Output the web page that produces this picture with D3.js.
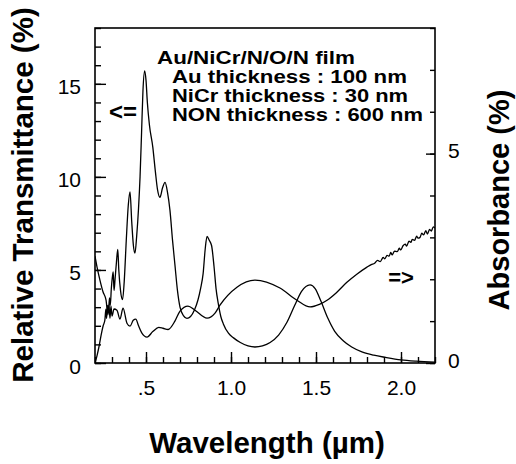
<!DOCTYPE html>
<html>
<head>
<meta charset="utf-8">
<script src="https://cdn.jsdelivr.net/npm/d3@7"></script>
<style>
  body { margin: 0; background: #fff; }
  text { font-family: "Liberation Sans", Arial, Helvetica, sans-serif; fill: #000; }
</style>
</head>
<body>
<svg id="chart"></svg>
<script>
// transmittance (left axis, %)
const wlT = [0.200, 0.212, 0.224, 0.236, 0.248, 0.258, 0.264, 0.268, 0.274, 0.279, 0.285, 0.290, 0.296, 0.302,
  0.307, 0.312, 0.318, 0.326, 0.334, 0.340, 0.350, 0.362, 0.372, 0.384, 0.396, 0.406, 0.416, 0.426, 0.435,
  0.445, 0.456, 0.465, 0.474, 0.482, 0.492, 0.500, 0.508, 0.520, 0.540, 0.555, 0.568, 0.582, 0.597, 0.612,
  0.626, 0.641, 0.656, 0.671, 0.685, 0.700, 0.720, 0.741, 0.762, 0.785, 0.806, 0.821, 0.836, 0.848, 0.859,
  0.872, 0.886, 0.900, 0.912, 0.925, 0.940, 0.955, 0.985, 1.015, 1.055, 1.100, 1.141, 1.185, 1.230, 1.280,
  1.330, 1.375, 1.415, 1.465, 1.495, 1.530, 1.570, 1.610, 1.660, 1.710, 1.770, 1.840, 1.910, 2.000, 2.090, 2.200];
const trans = [0.0, 0.4, 0.9, 1.5, 2.0, 2.3, 2.9, 2.4, 3.1, 2.7, 3.5, 3.1, 4.0, 4.6,
  4.9, 3.9, 4.5, 5.4, 6.1, 5.0, 3.9, 3.4, 4.4, 6.6, 8.5, 9.2, 7.6, 6.3, 5.9,
  6.8, 8.3, 10.0, 12.4, 14.6, 15.7, 15.2, 14.0, 12.8, 11.6, 10.3, 9.3, 8.9, 9.4, 9.7,
  9.2, 8.2, 6.6, 5.2, 3.9, 3.0, 2.55, 2.4, 2.5, 2.85, 3.4, 4.0, 4.8, 6.1, 6.8,
  6.6, 6.3, 5.2, 4.0, 3.2, 2.5, 2.1, 1.6, 1.35, 1.1, 0.92, 0.86, 0.92, 1.1, 1.5,
  2.2, 3.1, 3.85, 4.2, 4.0, 3.3, 2.4, 1.7, 1.2, 0.86, 0.6, 0.42, 0.3, 0.17, 0.1, 0.05];

// absorbance (right axis, %)
const wlA = [0.200, 0.212, 0.229, 0.247, 0.265, 0.276, 0.282, 0.288, 0.294, 0.300, 0.312, 0.329, 0.347, 0.365,
  0.388, 0.406, 0.425, 0.440, 0.455, 0.475, 0.506, 0.540, 0.575, 0.600, 0.630, 0.670, 0.700, 0.747, 0.788,
  0.859, 0.906, 0.935, 1.035, 1.141, 1.288, 1.388, 1.465, 1.520, 1.565, 1.620, 1.680, 1.740, 1.800, 1.825,
  1.845, 1.862, 1.878, 1.895, 1.905, 1.918, 1.930, 1.940, 1.948, 1.962, 1.978, 1.990, 1.998, 2.012, 2.025,
  2.033, 2.047, 2.058, 2.066, 2.080, 2.092, 2.100, 2.112, 2.122, 2.133, 2.146, 2.155, 2.168, 2.178, 2.190, 2.200];
const absorb = [2.55, 2.29, 1.98, 1.70, 1.50, 1.15, 1.38, 1.07, 1.36, 1.12, 1.29, 1.26, 1.05, 1.31,
  0.95, 0.88, 1.02, 1.05, 0.90, 0.72, 0.62, 0.75, 0.85, 0.83, 0.80, 1.00, 1.24, 1.36, 1.26,
  1.07, 1.19, 1.38, 1.81, 1.98, 1.79, 1.50, 1.34, 1.40, 1.50, 1.68, 1.92, 2.12, 2.29, 2.35,
  2.38, 2.45, 2.42, 2.52, 2.49, 2.57, 2.55, 2.64, 2.58, 2.67, 2.66, 2.74, 2.70, 2.80, 2.84,
  2.79, 2.91, 2.88, 2.95, 2.93, 3.03, 2.98, 3.00, 3.10, 3.06, 3.16, 3.08, 3.19, 3.15, 3.25, 3.22];

const xTickValues = [0.5, 1.0, 1.5, 2.0];
const xTickLabels = [".5", "1.0", "1.5", "2.0"];
const yLeftTicks = [0, 5, 10, 15];
const yRightTicks = [0, 5];
const annotation = ["Au/NiCr/N/O/N film", "Au thickness : 100 nm", "NiCr thickness : 30 nm", "NON thickness : 600 nm"];

const W = 516, H = 464;
const plot = { left: 95, right: 435, top: 28, bottom: 363 };

const svg = d3.select("#chart")
    .attr("width", W)
    .attr("height", H)
    .style("background", "#fff");

const x = d3.scaleLinear().domain([0.2, 2.2]).range([plot.left, plot.right]);
const yL = d3.scaleLinear().domain([0, 18]).range([plot.bottom, plot.top]);
const yR = d3.scaleLinear().domain([0, 8]).range([plot.bottom, plot.top]);

function styleAxis(g, size) {
    g.select(".domain").remove();
    g.attr("font-family", null).attr("font-size", null);
    g.selectAll("line").attr("stroke", "#000").attr("stroke-width", 1.4);
    g.selectAll("text").style("font-size", size + "px");
}

// bottom axis
svg.append("g")
    .attr("transform", `translate(0,${plot.bottom})`)
    .call(d3.axisBottom(x).tickValues(x.ticks(20)).tickSize(-6).tickFormat(""))
    .call(g => styleAxis(g, 21));
svg.append("g")
    .attr("transform", `translate(0,${plot.bottom})`)
    .call(d3.axisBottom(x).tickValues(xTickValues).tickSize(-11).tickPadding(17)
        .tickFormat((d, i) => xTickLabels[i]))
    .call(g => styleAxis(g, 21));

// left axis
svg.append("g")
    .attr("transform", `translate(${plot.left},0)`)
    .call(d3.axisLeft(yL).tickValues(yL.ticks(18)).tickSize(-6).tickFormat(""))
    .call(g => styleAxis(g, 21));
svg.append("g")
    .attr("transform", `translate(${plot.left},0)`)
    .call(d3.axisLeft(yL).tickValues(yLeftTicks).tickSize(-11).tickPadding(14))
    .call(g => styleAxis(g, 21))
    .call(g => g.selectAll("text").attr("dy", 10));

// right axis
svg.append("g")
    .attr("transform", `translate(${plot.right},0)`)
    .call(d3.axisRight(yR).tickValues(yR.ticks(8)).tickSize(-5).tickFormat(""))
    .call(g => styleAxis(g, 21));
svg.append("g")
    .attr("transform", `translate(${plot.right},0)`)
    .call(d3.axisRight(yR).tickValues(yRightTicks).tickSize(-9).tickPadding(13))
    .call(g => styleAxis(g, 21))
    .call(g => g.selectAll("text").attr("dy", 4));

// frame
svg.append("rect")
    .attr("x", plot.left)
    .attr("y", plot.top)
    .attr("width", plot.right - plot.left)
    .attr("height", plot.bottom - plot.top)
    .attr("fill", "none")
    .attr("stroke", "#000")
    .attr("stroke-width", 1.6);

svg.append("clipPath").attr("id", "clip")
    .append("rect")
    .attr("x", plot.left).attr("y", plot.top)
    .attr("width", plot.right - plot.left).attr("height", plot.bottom - plot.top);

const lineT = d3.line()
    .x((d, i) => x(wlT[i]))
    .y(d => yL(d))
    .curve(d3.curveMonotoneX);
const lineA = d3.line()
    .x((d, i) => x(wlA[i]))
    .y(d => yR(d))
    .curve(d3.curveMonotoneX);

svg.append("path")
    .attr("d", lineT(trans))
    .attr("clip-path", "url(#clip)")
    .attr("fill", "none")
    .attr("stroke", "#000")
    .attr("stroke-width", 1.3);
svg.append("path")
    .attr("d", lineA(absorb))
    .attr("clip-path", "url(#clip)")
    .attr("fill", "none")
    .attr("stroke", "#000")
    .attr("stroke-width", 1.3);

// annotation block
const noteX = [157, 172, 172, 172];
const noteY = [64, 83, 102, 121];
const noteW = [198, 235, 236, 251];
svg.selectAll(".note")
    .data(annotation)
    .join("text")
    .attr("class", "note")
    .attr("x", (d, i) => noteX[i])
    .attr("y", (d, i) => noteY[i])
    .attr("textLength", (d, i) => noteW[i])
    .attr("lengthAdjust", "spacingAndGlyphs")
    .style("font-size", "19px")
    .style("font-weight", "bold")
    .text(d => d);

// arrows
svg.append("text")
    .attr("x", 123).attr("y", 120)
    .attr("text-anchor", "middle")
    .style("font-size", "24px").style("font-weight", "bold")
    .text("<=");
svg.append("text")
    .attr("x", 401).attr("y", 285)
    .attr("text-anchor", "middle")
    .style("font-size", "22px").style("font-weight", "bold")
    .text("=>");

// axis titles
svg.append("text")
    .attr("transform", "translate(33,195) rotate(-90)")
    .attr("text-anchor", "middle")
    .style("font-size", "29.5px").style("font-weight", "bold")
    .text("Relative Transmittance (%)");
svg.append("text")
    .attr("transform", "translate(509,200) rotate(-90)")
    .attr("text-anchor", "middle")
    .style("font-size", "29px").style("font-weight", "bold")
    .text("Absorbance (%)");
svg.append("text")
    .attr("x", 267).attr("y", 453)
    .attr("text-anchor", "middle")
    .style("font-size", "29.5px").style("font-weight", "bold")
    .text("Wavelength (µm)");
</script>
</body>
</html>
